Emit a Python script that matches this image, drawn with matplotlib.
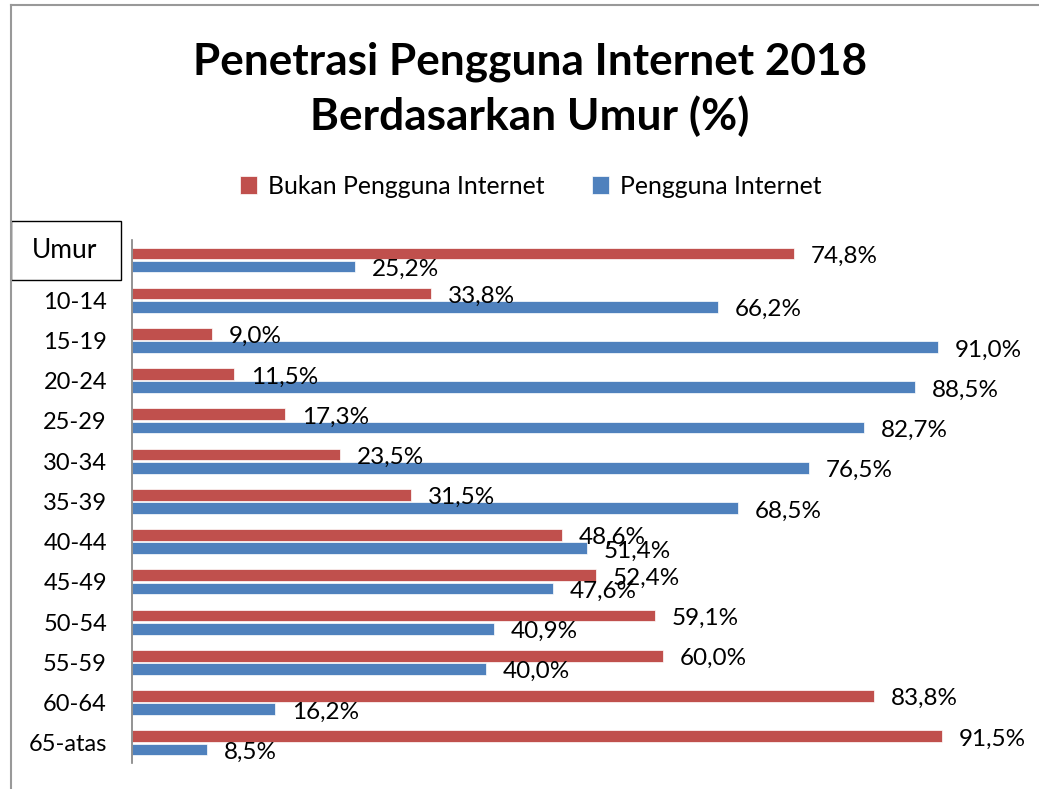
import numpy as np
import matplotlib
matplotlib.use('Agg')
import matplotlib.pyplot as plt
from matplotlib.patches import Rectangle
from matplotlib.lines import Line2D

plt.rcParams['font.family'] = ['Lato', 'DejaVu Sans']

umur = ['Umur', '10-14', '15-19', '20-24', '25-29', '30-34', '35-39',
        '40-44', '45-49', '50-54', '55-59', '60-64', '65-atas']
bukan = [74.8, 33.8, 9.0, 11.5, 17.3, 23.5, 31.5, 48.6, 52.4, 59.1, 60.0, 83.8, 91.5]
pengguna = [25.2, 66.2, 91.0, 88.5, 82.7, 76.5, 68.5, 51.4, 47.6, 40.9, 40.0, 16.2, 8.5]

merah = '#C0504D'
biru = '#4F81BD'

fig = plt.figure(figsize=(10.39, 7.89), dpi=100)
ax = fig.add_axes([0.127, 0.033, 0.852, 0.663])

y = np.arange(len(umur))
h = 0.29
off = 0.165
ax.barh(y - off, bukan, height=h, color=merah, edgecolor='white', linewidth=0.5,
        label='Bukan Pengguna Internet')
ax.barh(y + off, pengguna, height=h, color=biru, edgecolor='white', linewidth=0.5,
        label='Pengguna Internet')

for i in range(len(umur)):
    ax.text(bukan[i] + 1.9, y[i] - off + 0.07, f'{bukan[i]:.1f}%'.replace('.', ','),
            va='center', ha='left', fontsize=17.5)
    ax.text(pengguna[i] + 1.9, y[i] + off + 0.07, f'{pengguna[i]:.1f}%'.replace('.', ','),
            va='center', ha='left', fontsize=17.5)

ax.set_xlim(0, 100)
ax.set_ylim(len(umur) - 0.5, -0.5)
ax.set_yticks(y)
ax.set_yticklabels([''] + umur[1:], fontsize=17)
ax.tick_params(axis='y', length=0, pad=18)
ax.set_xticks([])
for s in ['top', 'right', 'bottom']:
    ax.spines[s].set_visible(False)
ax.spines['left'].set_color('#808080')
ax.spines['left'].set_linewidth(1.2)

# kotak "Umur"
fig.patches.append(Rectangle((11 / 1039, 1 - 280 / 789), 110 / 1039, 59 / 789,
                             transform=fig.transFigure, fill=False,
                             edgecolor='black', linewidth=1.0))
fig.text(65 / 1039, 1 - 251 / 789, umur[0], ha='center', va='center', fontsize=19)

# bingkai
fig.add_artist(Line2D([11 / 1039, 11 / 1039], [0, 1 - 5 / 789], color='#999999', linewidth=1.5))
fig.add_artist(Line2D([11 / 1039, 1], [1 - 5 / 789, 1 - 5 / 789], color='#999999', linewidth=1.5))

fig.text(0.51, 1 - 89 / 789, 'Penetrasi Pengguna Internet 2018\nBerdasarkan Umur (%)',
         ha='center', va='center', fontsize=31.8, fontweight='bold', linespacing=1.4)

fig.legend(loc='center', bbox_to_anchor=(0.511, 1 - 186 / 789), ncol=2, frameon=False,
           fontsize=17.8, handlelength=0.7, handleheight=0.7, columnspacing=1.9,
           handletextpad=0.45)

fig.savefig('out.png', dpi=100)
